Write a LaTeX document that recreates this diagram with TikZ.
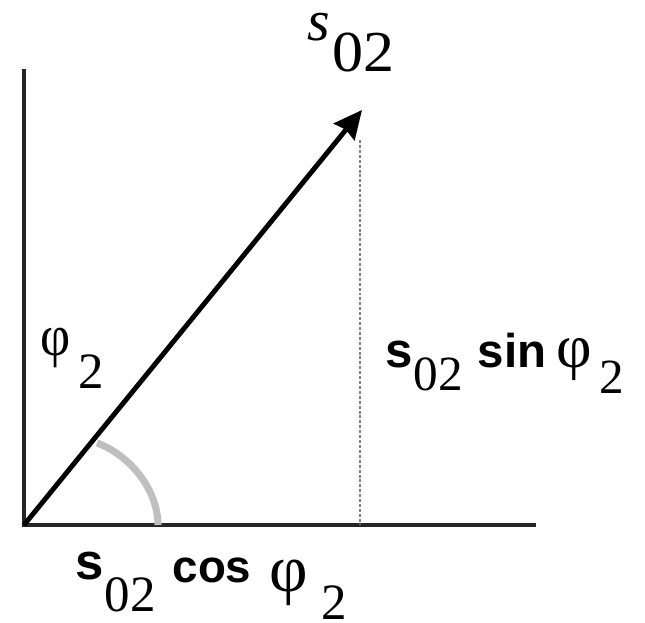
\documentclass[tikz,border=0pt]{standalone}
\usepackage{fontspec}
\setmainfont{Liberation Serif}
\newfontfamily\arialbf{Liberation Sans}
\usetikzlibrary{arrows.meta}
\newdimen\px \px=0.02cm
\newcommand{\fs}[1]{\fontsize{#1}{#1}\selectfont}
\tikzset{
  axis/.style={line width=2pt,black!85},
  vec/.style={line width=2.8pt,-{Stealth[length=16pt,width=15pt,inset=1.5pt]}},
  proj/.style={line width=0.9pt,gray,dash pattern=on 1.7pt off 1.1pt},
  angarc/.style={line width=4pt,gray!50},
  lbl/.style={inner sep=0pt,anchor=base west}
}
\begin{document}
\begin{tikzpicture}[x=0.02cm,y=-0.02cm]
\useasboundingbox (0,0) rectangle (645,622);
\coordinate (O) at (24,525);
\coordinate (ytop) at (24,69);
\coordinate (xend) at (536,525);
\coordinate (tip) at (362,110);
\coordinate (foot) at (360,525);
\coordinate (dtop) at (360,140);
\coordinate (arcA) at (97,443);
\coordinate (arcB) at (158,525);
% axes and projection
\draw[axis] (ytop) -- (O) -- (xend);
\draw[proj] (dtop) -- (foot);
\draw[angarc] (arcA) .. controls (130,455) and (158,490) .. (arcB);
\draw[vec] (O) -- (tip);
% labels
\node[lbl] (s02) at (307,40) {\fs{33}\textit{s}\hspace{3\px}%
  \raisebox{-31\px}{\scalebox{1.07}[1]{02}}};
\node[lbl] (phi) at (40,355) {\scalebox{0.9}[1]{\fs{33}φ}\hspace{8\px}%
  \raisebox{-33\px}{\fs{29}2}};
\node[lbl] (ssin) at (385,367) {\fs{28}{\arialbf\bfseries s}\hspace{1\px}%
  \raisebox{-23\px}{02}\hspace{15\px}%
  {\fs{27}\arialbf\bfseries sin}\hspace{10\px}%
  {\fs{35}φ}\hspace{8\px}%
  \raisebox{-26\px}{2}};
\node[lbl] (scos) at (75,579) {\fs{29}{\arialbf\bfseries s}\hspace{1\px}%
  \raisebox{-32\px}{02}\hspace{17\px}%
  \raisebox{-3\px}{\fs{26}\arialbf\bfseries cos}\hspace{18\px}%
  \raisebox{-12\px}{\fs{38}φ}\hspace{14\px}%
  \raisebox{-40\px}{2}};
\end{tikzpicture}
\end{document}
